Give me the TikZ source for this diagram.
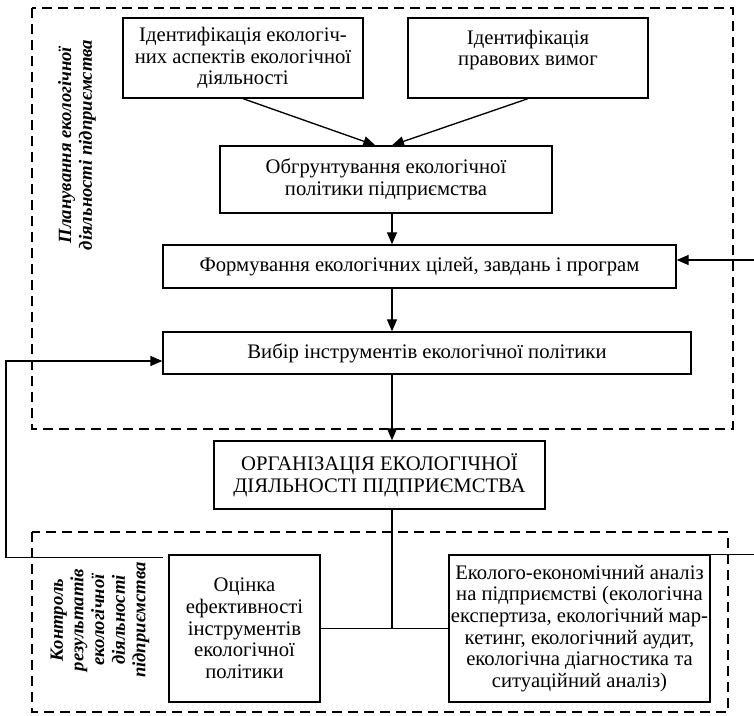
\documentclass[tikz,border=0pt]{standalone}
\usepackage{fontspec}
\setmainfont{Liberation Serif}
\usepackage{tikz}
\usetikzlibrary{arrows.meta}

\begin{document}
\begin{tikzpicture}[x=0.75pt, y=-0.75pt,
    box/.style={draw, rectangle, line width=1pt, align=center, inner sep=0.5pt,
        font=\fontsize{15.5pt}{16.3pt}\selectfont},
    zone/.style={draw, line width=1pt, dash pattern=on 7.5pt off 4.5pt},
    side/.style={rotate=90, align=center, font=\fontsize{14pt}{15.5pt}\selectfont\bfseries\itshape},
    arr/.style={-{Triangle[length=9pt, width=7.5pt]}, line width=1pt},
    link/.style={line width=1pt}]

    \useasboundingbox (0,0) rectangle (754,716);

    % Dashed zones
    \draw[zone] (32,8) rectangle (733,429);
    \draw[zone] (32,532) rectangle (728,712);

    % Zone captions
    \node[side] (plancap) at (77,145)
        {Планування екологічної\\діяльності підприємства};
    \node[side] (ctrlcap) at (100,620)
        {Контроль\\результатів\\екологічної\\діяльності\\підприємства};

    % Top boxes
    \node[box, minimum width=180pt, minimum height=60pt] (ident1) at (243,58)
        {Ідентифікація екологіч-\\них аспектів екологічної\\діяльності};
    \node[box, minimum width=180pt, minimum height=60pt] (ident2) at (528,58)
        {Ідентифікація\\правових вимог\\[-1pt]};

    % Policy chain
    \node[box, minimum width=249pt, minimum height=50.25pt] (policy) at (386,179.5)
        {Обгрунтування екологічної\\політики підприємства};
    \node[box, minimum width=384.75pt, minimum height=32.25pt] (goals) at (419.5,266.5)
        {Формування екологічних цілей, завдань і програм};
    \node[box, minimum width=396pt, minimum height=31.5pt] (tools) at (427,353)
        {Вибір інструментів екологічної політики};
    \node[box, minimum width=248.25pt, minimum height=51pt] (org) at (379.5,475)
        {ОРГАНІЗАЦІЯ ЕКОЛОГІЧНОЇ\\ДІЯЛЬНОСТІ ПІДПРИЄМСТВА};

    % Control boxes
    \node[box, minimum width=113.25pt, minimum height=110.25pt] (eval) at (244.5,628.5)
        {Оцінка\\ефективності\\інструментів\\екологічної\\політики};
    \node[box, minimum width=195.75pt, minimum height=110.25pt] (analysis) at (579.5,628.5)
        {Еколого-економічний аналіз\\на підприємстві (екологічна\\експертиза, екологічний мар-\\кетинг, екологічний аудит,\\екологічна діагностика та\\ситуаційний аналіз)};

    % Helper coordinates
    \coordinate (spine) at (392,0);
    \coordinate (backl) at (6,361);
    \coordinate (backr) at (754,260);

    % Arrows
    \draw[arr] (ident1.south) -- ([xshift=-8pt]policy.north);
    \draw[arr] (ident2.south) -- ([xshift=4.5pt]policy.north);
    \draw[arr] (policy.south -| spine) -- (goals.north -| spine);
    \draw[arr] (goals.south -| spine) -- (tools.north -| spine);
    \draw[arr] (tools.south -| spine) -- (org.north -| spine);

    % Links to control
    \draw[link] (org.south -| spine) -- (spine |- eval.east);
    \draw[link] (eval.east) -- (analysis.west);

    % Feedback
    \draw[arr] ([xshift=-4pt, yshift=-2.25pt]eval.north west) -| (backl) -- (backl -| tools.west);
    \draw[link] (analysis.north east) -- (analysis.north east -| backr);
    \draw[arr] (backr) -- (backr -| goals.east);

\end{tikzpicture}
\end{document}
